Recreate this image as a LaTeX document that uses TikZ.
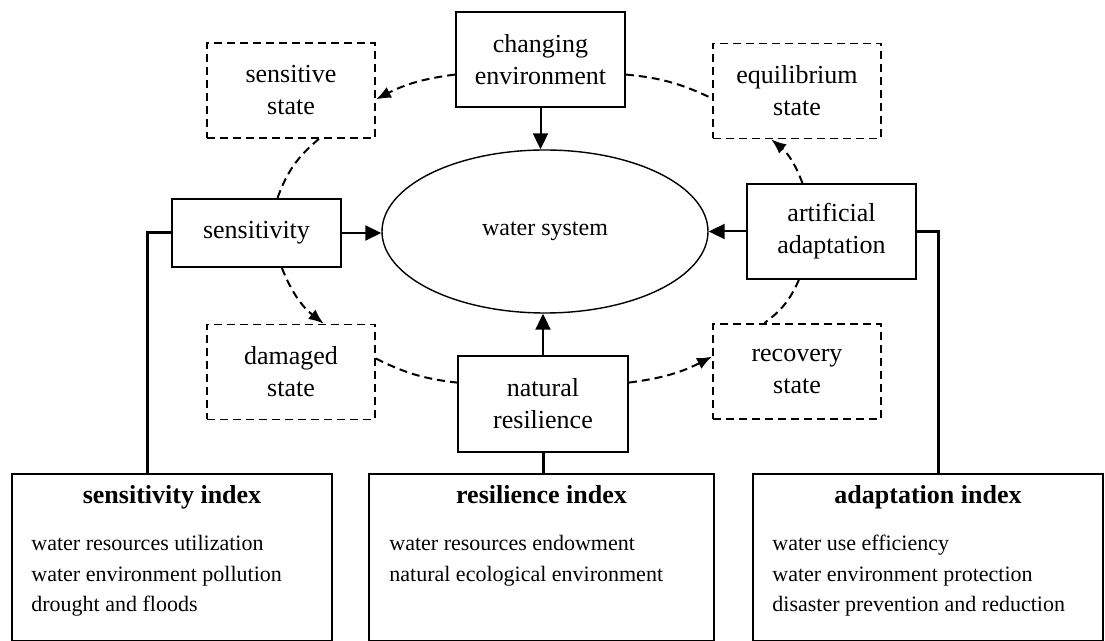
\documentclass[tikz,border=0pt]{standalone}
\usepackage{fontspec}
\setmainfont{Liberation Serif}
\usetikzlibrary{shapes.geometric,arrows.meta,calc}

\tikzset{
  box/.style={draw, line width=0.9pt, inner sep=0pt, align=center,
    minimum width=84.5pt, minimum height=47.5pt, font=\fontsize{13}{16}\selectfont},
  stbox/.style={box, dash pattern=on 4pt off 2.5pt, minimum width=84pt},
  idxbox/.style={draw, line width=1pt, minimum height=83.5pt, inner sep=0pt},
  idxtitle/.style={anchor=base, inner sep=0pt, font=\bfseries\fontsize{13}{15}\selectfont},
  idxlist/.style={anchor=north west, align=left, inner sep=0pt, font=\fontsize{11}{15.25}\selectfont},
  arr/.style={-{Triangle[length=8pt,width=7.5pt]}, line width=1pt},
  darr/.style={dash pattern=on 4pt off 2.5pt, line width=1pt},
  dtip/.style={-{Latex[length=7.5pt,width=6pt]}},
  link/.style={line width=1.5pt}
}

\begin{document}
\begin{tikzpicture}[x=0.5pt,y=-0.5pt]
\useasboundingbox (0,0) rectangle (1105,641);

\node[draw, ellipse, line width=0.7pt, minimum width=163pt, minimum height=81.5pt, inner sep=0pt,
  font=\fontsize{12}{14}\selectfont] (ws) at (545,231.5) {water system};

\node[box] (ce) at (540.5,59.5) {changing\\environment};
\node[box, minimum height=34pt] (sens) at (256.5,233) {sensitivity};
\node[box] (aa) at (831.5,231.5) {artificial\\adaptation};
\node[box, minimum width=85pt, minimum height=48pt] (nr) at (543,404) {natural\\resilience};

\node[stbox] (ss) at (291,90.5) {sensitive\\state};
\node[stbox] (eq) at (797,91) {equilibrium\\state};
\node[stbox] (dm) at (291,372) {damaged\\state};
\node[stbox] (rc) at (797,371.5) {recovery\\state};

\draw[arr] (ce.south) -- (ce.south |- ws.north);
\draw[arr] (sens.east) -- (sens.east -| ws.west);
\draw[arr] (aa.west) -- (aa.west -| ws.east);
\draw[arr] (nr.north) -- (nr.north |- ws.south);

\draw[darr, dtip] (ce.190) to[bend right=10] (ss.354);
\draw[darr] (ce.350) to[bend left=10] (eq.185);
\draw[darr] (ss.300) to[bend right=15] (sens.59);
\draw[darr, dtip] (sens.306) to[bend right=15] (dm.56);
\draw[darr] (dm.9) to[bend right=10] (nr.166);
\draw[darr, dtip] (nr.14) to[bend right=10] (rc.170);
\draw[darr] (aa.236) to[bend left=15] (rc.124);
\draw[darr, dtip] (aa.121) to[bend right=15] (eq.242);

\node[idxbox, minimum width=160pt] (si) at (172,557.5) {};
\node[idxbox, minimum width=172.5pt] (ri) at (541.5,557.5) {};
\node[idxbox, minimum width=175pt] (ai) at (928,557.5) {};

\node[idxtitle] (sit) at ($(si.north)+(0,31)$) {sensitivity index};
\node[idxtitle] (rit) at ($(ri.north)+(0,31)$) {resilience index};
\node[idxtitle] (ait) at ($(ai.north)+(0,31)$) {adaptation index};

\node[idxlist] (sil) at ($(si.north west)+(20,62)$) {water resources utilization\\water environment pollution\\drought and floods};
\node[idxlist] (ril) at ($(ri.north west)+(21,62)$) {water resources endowment\\natural ecological environment};
\node[idxlist] (ail) at ($(ai.north west)+(20,62)$) {water use efficiency\\water environment protection\\disaster prevention and reduction};

\draw[link] (sens.west) -| ($(si.north west)!0.425!(si.north east)$);
\draw[link] (aa.east) -| ($(ai.north west)!0.531!(ai.north east)$);
\draw[link] (nr.south) -- (nr.south |- ri.north);
\end{tikzpicture}
\end{document}
